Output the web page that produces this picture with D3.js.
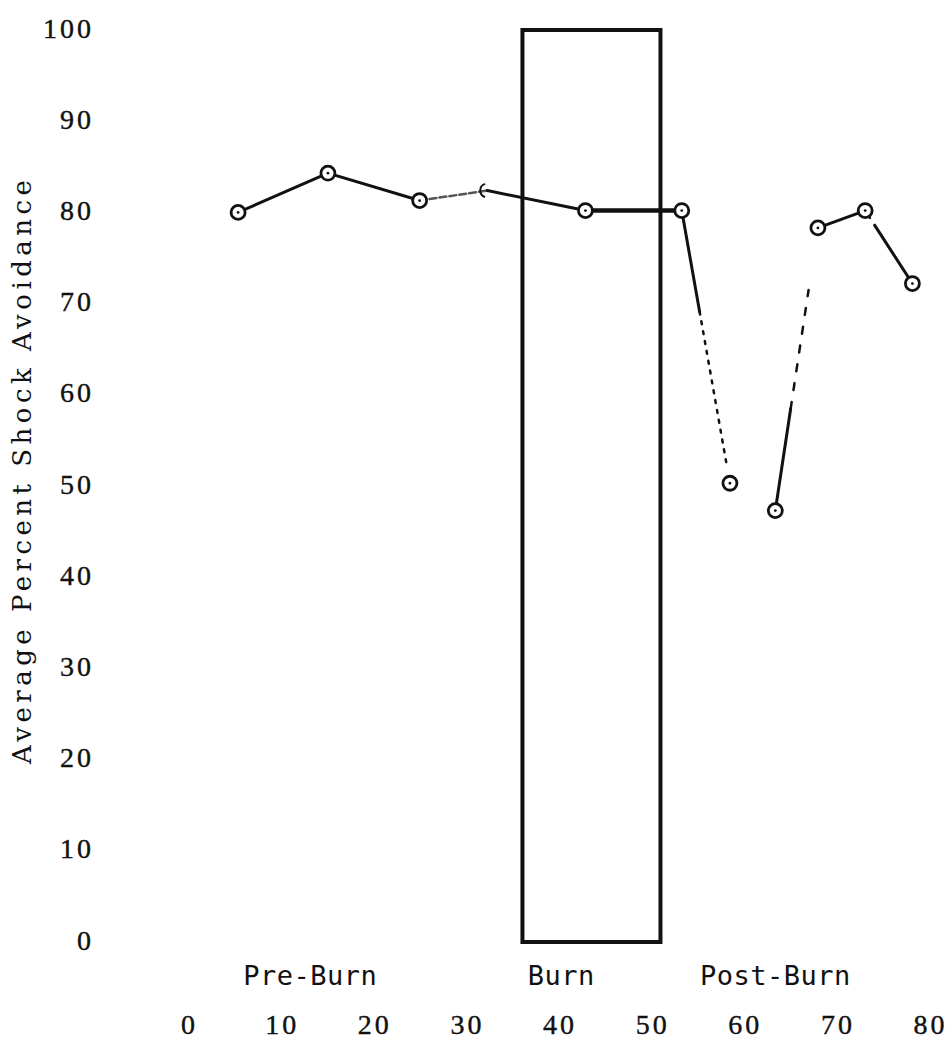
<!DOCTYPE html>
<html>
<head>
<meta charset="utf-8">
<script src="https://cdn.jsdelivr.net/npm/d3@7"></script>
<style>
  html, body { margin: 0; padding: 0; background: #ffffff; }
  svg { display: block; }
</style>
</head>
<body>
<svg id="chart" width="949" height="1049"></svg>
<script>
// ---- data ----
const xTickValues = [0, 10, 20, 30, 40, 50, 60, 70, 80];
const yTickValues = [0, 10, 20, 30, 40, 50, 60, 70, 80, 90, 100];
const sessions   = [5.3, 15.0, 24.9, 32.2, 42.8, 53.2, 58.4, 63.3, 67.9, 73.0, 78.1];
const avoidance  = [80.0, 84.3, 81.3, 82.4, 80.2, 80.2, 50.3, 47.3, 78.3, 80.2, 72.2];
const markerKinds = ["full", "full", "full", "partial", "full", "full", "full", "full", "full", "full", "full"];
// style of the segment from point i to point i+1
const segmentKinds = ["solid", "solid", "faint", "solid", "thick", "solidThenDots", "none", "solidThenDashes", "solid", "dotThenSolid"];
const burnPeriod = [36.0, 50.9];
const phaseLabels = ["Pre-Burn", "Burn", "Post-Burn"];
const phaseCenters = [13.1, 40.2, 63.3];
const yAxisTitle = "Average Percent Shock Avoidance";

// ---- drawing ----
const svg = d3.select("#chart");
const ink = "#111";
const x = d3.scaleLinear().domain([0, 80]).range([189, 930]);
const y = d3.scaleLinear().domain([0, 100]).range([942, 30]);

// y axis (labels only)
const yAxis = svg.append("g")
  .attr("transform", "translate(100,0)")
  .call(d3.axisLeft(y).tickValues(yTickValues).tickSize(0).tickPadding(6).tickFormat(d3.format("d")));
yAxis.select(".domain").remove();
yAxis.selectAll("text")
  .attr("font-family", "'Liberation Serif', 'DejaVu Serif', serif")
  .attr("font-size", 28)
  .attr("letter-spacing", 3)
  .attr("fill", ink)
  .attr("stroke", ink)
  .attr("stroke-width", 0.4)
  .attr("dy", "0.25em");

// x axis (labels only)
const xAxis = svg.append("g")
  .attr("transform", "translate(0,1017)")
  .call(d3.axisBottom(x).tickValues(xTickValues).tickSize(0).tickPadding(0).tickFormat(d3.format("d")));
xAxis.select(".domain").remove();
xAxis.selectAll("text")
  .attr("font-family", "'Liberation Serif', 'DejaVu Serif', serif")
  .attr("font-size", 28)
  .attr("letter-spacing", 3)
  .attr("fill", ink)
  .attr("stroke", ink)
  .attr("stroke-width", 0.4)
  .attr("dy", "0.6em");

// y axis title (typewriter-like serif)
svg.append("text")
  .attr("transform", "translate(31,472) rotate(-90)")
  .attr("text-anchor", "middle")
  .attr("font-family", "'DejaVu Serif', 'Liberation Serif', serif")
  .attr("font-size", 26)
  .attr("textLength", 584)
  .attr("lengthAdjust", "spacing")
  .attr("fill", ink)
  .text(yAxisTitle);

// phase labels
svg.append("g").selectAll("text")
  .data(phaseLabels)
  .join("text")
  .attr("x", (d, i) => x(phaseCenters[i]))
  .attr("y", 985)
  .attr("text-anchor", "middle")
  .attr("font-family", "'DejaVu Sans Mono', monospace")
  .attr("font-size", 27)
  .attr("letter-spacing", 0.5)
  .attr("fill", ink)
  .text(d => d);

// burn box
svg.append("rect")
  .attr("x", x(burnPeriod[0]))
  .attr("y", y(100))
  .attr("width", x(burnPeriod[1]) - x(burnPeriod[0]))
  .attr("height", y(0) - y(100))
  .attr("fill", "none")
  .attr("stroke", ink)
  .attr("stroke-width", 4);

// data segments
const pts = sessions.map((s, i) => [x(s), y(avoidance[i])]);
const lerp = (a, b, t) => [a[0] + (b[0] - a[0]) * t, a[1] + (b[1] - a[1]) * t];
const segG = svg.append("g").attr("stroke", ink).attr("stroke-linecap", "round").attr("fill", "none");
function seg(a, b, width, dash, color) {
  segG.append("line")
    .attr("x1", a[0]).attr("y1", a[1]).attr("x2", b[0]).attr("y2", b[1])
    .attr("stroke-width", width)
    .attr("stroke", color || ink)
    .attr("stroke-dasharray", dash || null);
}
segmentKinds.forEach((kind, i) => {
  const a = pts[i], b = pts[i + 1];
  if (kind === "solid") seg(a, b, 3);
  else if (kind === "thick") seg(a, b, 4.5);
  else if (kind === "faint") seg(a, b, 2.5, "7 3", "#555");
  else if (kind === "solidThenDots") {
    const m = lerp(a, b, 0.37);
    seg(a, m, 3);
    seg(m, lerp(a, b, 0.93), 2.5, "3 7");
  } else if (kind === "solidThenDashes") {
    const m = lerp(a, b, 0.36);
    seg(a, m, 3);
    seg(m, lerp(a, b, 0.78), 2.5, "7 12");
  } else if (kind === "dotThenSolid") {
    seg(lerp(a, b, 0.08), lerp(a, b, 0.1), 2.5);
    seg(lerp(a, b, 0.2), b, 3);
  }
});

// markers
const mk = svg.append("g");
pts.forEach((p, i) => {
  if (markerKinds[i] === "full") {
    mk.append("circle")
      .attr("cx", p[0]).attr("cy", p[1]).attr("r", 7)
      .attr("fill", "#fff").attr("stroke", ink).attr("stroke-width", 2.8);
    mk.append("circle")
      .attr("cx", p[0]).attr("cy", p[1]).attr("r", 1.4)
      .attr("fill", ink);
  } else {
    mk.append("path")
      .attr("d", d3.arc()({ innerRadius: 6, outerRadius: 8, startAngle: Math.PI * 1.1, endAngle: Math.PI * 1.9 }))
      .attr("transform", `translate(${p[0]},${p[1]})`)
      .attr("fill", ink);
  }
});
</script>
</body>
</html>
